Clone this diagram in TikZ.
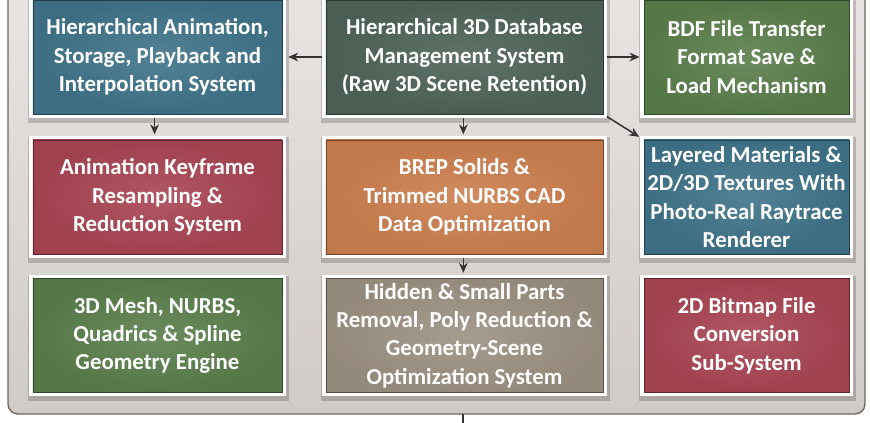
\documentclass[tikz,border=0pt]{standalone}
\usepackage{fontspec}
\setmainfont{Carlito}
\usepackage{xcolor}
\usetikzlibrary{arrows.meta,positioning}
\definecolor{boxteal}{HTML}{3F7389}
\definecolor{boxslate}{HTML}{4E6357}
\definecolor{boxleaf}{HTML}{5A7E4B}
\definecolor{boxwine}{HTML}{A84452}
\definecolor{boxclay}{HTML}{CB7E4E}
\definecolor{boxtaupe}{HTML}{9C9182}
\definecolor{panelfill}{HTML}{E3DCD8}
\definecolor{paneledge}{HTML}{6F6964}
\tikzset{
  sysbox/.style={rectangle, draw=#1!55!black, line width=0.6pt,
              inner color=#1!90!white, outer color=#1!95!black, text=white, align=center,
              font=\bfseries\fontsize{19.5}{24.2}\selectfont, minimum height=3.42cm, inner sep=1pt,
              preaction={draw=black, opacity=0.18, line width=10pt, transform canvas={xshift=1pt, yshift=-2.5pt}},
              preaction={draw=white, line width=6.5pt}},
  sysbox/.default={boxteal},
  arr/.style={-{Stealth[length=3mm, width=2.6mm]}, line width=1.3pt, black!80},
}

\begin{document}
\begin{tikzpicture}[x=0.03cm, y=-0.03cm]
\useasboundingbox (0,0) rectangle (870,423);
\clip (0,0) rectangle (870,423);
% panel
\draw[line width=1.2pt, paneledge, top color=panelfill!70!white, bottom color=panelfill!92!black, rounded corners=0.3cm]
  (8,-40) rectangle (865,414);
% top row
\node[sysbox=boxteal, minimum width=7.47cm] (anim) at (157.5,57)
  {Hierarchical Animation,\\ Storage, Playback and\\ Interpolation System};
\node[sysbox=boxslate, minimum width=8.31cm] (db) at (464.5,57)
  {Hierarchical 3D Database\\ Management System\\ (Raw 3D Scene Retention)};
\node[sysbox=boxleaf, minimum width=6.15cm] (bdf) at (746.5,57)
  {BDF File Transfer\\ Format Save \&\\ Load Mechanism};
% middle row
\node[sysbox=boxwine, minimum width=7.47cm] (key) at (157.5,197)
  {Animation Keyframe\\ Resampling \&\\ Reduction System};
\node[sysbox=boxclay, minimum width=8.31cm] (brep) at (464.5,197)
  {BREP Solids \&\\ Trimmed NURBS CAD\\ Data Optimization};
\node[sysbox=boxteal, minimum width=6.15cm] (tex) at (746.5,197)
  {Layered Materials \&\\ 2D/3D Textures With\\ Photo-Real Raytrace\\ Renderer};
% bottom row
\node[sysbox=boxleaf, minimum width=7.47cm] (mesh) at (157.5,335.5)
  {3D Mesh, NURBS,\\ Quadrics \& Spline\\ Geometry Engine};
\node[sysbox=boxtaupe, minimum width=8.31cm] (hid) at (464.5,335.5)
  {Hidden \& Small Parts\\ Removal, Poly Reduction \&\\ Geometry-Scene\\ Optimization System};
\node[sysbox=boxwine, minimum width=6.15cm] (bmp) at (746.5,335.5)
  {2D Bitmap File\\ Conversion\\ Sub-System};
% connectors
\draw[arr, shorten <=3.5pt, shorten >=5pt] (db.west) -- (anim.east);
\draw[arr, shorten <=3.5pt, shorten >=3.5pt] (db.east) -- (bdf.west);
\draw[arr, shorten <=3.5pt, shorten >=4.5pt] (db.south east) -- (tex.north west);
\draw[arr, shorten <=3.5pt, shorten >=4.5pt] ([xshift=-2.5pt]anim.south) -- ([xshift=-2.5pt]key.north);
\draw[arr, shorten <=3.5pt, shorten >=4.5pt] ([xshift=-1pt]db.south) -- ([xshift=-1pt]brep.north);
\draw[arr, shorten <=3.5pt, shorten >=4.5pt] ([xshift=-1pt]brep.south) -- ([xshift=-1pt]hid.north);
\coordinate (pbot) at (463,414);
\coordinate (exit) at (463,445);
\draw[arr] (pbot) -- (exit);
\end{tikzpicture}
\end{document}
